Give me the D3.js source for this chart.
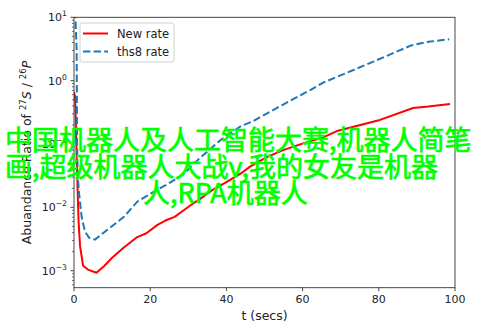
<!DOCTYPE html>
<html><head><meta charset="utf-8">
<script src="https://cdn.jsdelivr.net/npm/d3@7"></script>
<style>
html,body{margin:0;padding:0;background:#fff;}
svg{display:block;}
</style>
</head><body>
<script>
// ---- data ----
const newRateX = [0, 0.3, 0.7, 1.2, 1.6, 2.4, 3.8, 5.9, 8, 10, 13, 16.6, 19, 21.9, 24, 26.4, 28, 30.6, 33, 36.7, 40, 43.7, 46.2, 50.6, 54.9, 61.1, 65.4, 69, 80.3, 89, 93, 98.7];
const newRateY = [0.66, 0.55, 0.06, 0.006, 0.0024, 0.0012, 0.00103, 0.00093, 0.0012, 0.0016, 0.0023, 0.0034, 0.0039, 0.0053, 0.0062, 0.0071, 0.0083, 0.0108, 0.0135, 0.0195, 0.025, 0.034, 0.044, 0.062, 0.08, 0.107, 0.127, 0.16, 0.24, 0.37, 0.39, 0.43];
const ths8X = [0, 0.7, 0.8, 1.0, 1.4, 2.0, 2.9, 4, 5.5, 8.7, 13.1, 16.6, 21, 25.4, 28.9, 33, 38.5, 43.7, 47, 54.9, 62, 65.4, 78.6, 88.5, 93, 98.5];
const ths8Y = [40, 3, 0.1, 0.03, 0.015, 0.0071, 0.0041, 0.0033, 0.0031, 0.0044, 0.0071, 0.0123, 0.0177, 0.025, 0.034, 0.06, 0.116, 0.19, 0.23, 0.42, 0.71, 0.93, 2.0, 3.6, 4.1, 4.5];
const xTicks = [0, 20, 40, 60, 80, 100];
const yTickExps = [1, 0, -1, -2, -3];
const seriesNames = ["New rate", "ths8 rate"];
const overlayLines = ["中国机器人及人工智能大赛,机器人简笔", "画,超级机器人大战v,我的女友是机器", "人,RPA机器人"];

// ---- layout ----
const W = 493, H = 329;
const L = 74, R = 455, T = 17.3, B = 287.7;
const svg = d3.select("body").append("svg").attr("width", W).attr("height", H);

const x = d3.scaleLinear().domain([0, 100]).range([L, R]);
const y = d3.scaleLog().domain([5.4e-4, 10]).range([B, T]);

svg.append("clipPath").attr("id", "clip").append("rect")
  .attr("x", L).attr("y", T).attr("width", R - L).attr("height", B - T);

const line = d3.line().x(d => x(d[0])).y(d => y(d[1]));
const plot = svg.append("g").attr("clip-path", "url(#clip)");
plot.append("path").datum(newRateX.map((v, i) => [v, newRateY[i]]))
  .attr("d", line).attr("fill", "none").attr("stroke", "#ff0000").attr("stroke-width", 2)
  .attr("stroke-linejoin", "round");
plot.append("path").datum(ths8X.map((v, i) => [v, ths8Y[i]]))
  .attr("d", line).attr("fill", "none").attr("stroke", "#1f77b4").attr("stroke-width", 2)
  .attr("stroke-dasharray", "7.4,3.2");

// spines
svg.append("rect").attr("x", L).attr("y", T).attr("width", R - L).attr("height", B - T)
  .attr("fill", "none").attr("stroke", "#333").attr("stroke-width", 0.9);

const tickFont = "DejaVu Sans, sans-serif";
// x ticks
const xg = svg.append("g");
xTicks.forEach(t => {
  xg.append("line").attr("x1", x(t)).attr("x2", x(t)).attr("y1", B).attr("y2", B + 3.5)
    .attr("stroke", "#333").attr("stroke-width", 0.9);
  xg.append("text").attr("x", x(t)).attr("y", B + 15.5).attr("text-anchor", "middle")
    .attr("font-family", tickFont).attr("font-size", 11).attr("fill", "#222").text(t);
});
// y ticks
const yg = svg.append("g");
yTickExps.forEach(e => {
  const v = Math.pow(10, e);
  yg.append("line").attr("x1", L - 3.5).attr("x2", L).attr("y1", y(v)).attr("y2", y(v))
    .attr("stroke", "#333").attr("stroke-width", 0.9);
  const tx = yg.append("text").attr("x", L - 7).attr("y", y(v) + 4).attr("text-anchor", "end")
    .attr("font-family", tickFont).attr("font-size", 11).attr("fill", "#222");
  tx.append("tspan").text("10");
  tx.append("tspan").attr("dy", -5).attr("font-size", 7.7).text(e < 0 ? "\u2212" + (-e) : String(e));
});
// minor ticks
for (let e = -4; e <= 0; e++) {
  for (let m = 2; m <= 9; m++) {
    const v = m * Math.pow(10, e);
    if (v < y.domain()[0] || v > y.domain()[1]) continue;
    yg.append("line").attr("x1", L - 2).attr("x2", L).attr("y1", y(v)).attr("y2", y(v))
      .attr("stroke", "#333").attr("stroke-width", 0.7);
  }
}

// axis labels
svg.append("text").attr("x", (L + R) / 2).attr("y", 319.5).attr("text-anchor", "middle")
  .attr("font-family", tickFont).attr("font-size", 12.5).attr("fill", "#222").text("t (secs)");
const yl = svg.append("text").attr("transform", `translate(31,${(T + B) / 2}) rotate(-90)`)
  .attr("text-anchor", "middle").attr("font-family", tickFont).attr("font-size", 12.5).attr("fill", "#222");
yl.append("tspan").text("Abuandance Ratio of ");
yl.append("tspan").attr("dy", -5).attr("font-size", 8.5).text("27");
yl.append("tspan").attr("dy", 5).attr("font-style", "italic").text("S");
yl.append("tspan").text(" / ");
yl.append("tspan").attr("dy", -5).attr("font-size", 8.5).text("26");
yl.append("tspan").attr("dy", 5).attr("font-style", "italic").text("P");

// legend
const lg = svg.append("g");
lg.append("rect").attr("x", 80).attr("y", 23).attr("width", 94).attr("height", 39).attr("rx", 2.5)
  .attr("fill", "#fff").attr("fill-opacity", 0.8).attr("stroke", "#ccc").attr("stroke-width", 0.9);
const legColors = ["#ff0000", "#1f77b4"];
const legDash = [null, "7.4,3.2"];
seriesNames.forEach((n, i) => {
  const ly = 33.5 + i * 18;
  lg.append("line").attr("x1", 83).attr("x2", 108).attr("y1", ly).attr("y2", ly)
    .attr("stroke", legColors[i]).attr("stroke-width", 2).attr("stroke-dasharray", legDash[i]);
  lg.append("text").attr("x", 117).attr("y", ly + 4).attr("font-family", tickFont)
    .attr("font-size", 11.5).attr("fill", "#222").text(n);
});

// overlay text
const ovX = [5, 5, 143];
const ovY = [150, 176.5, 203];
overlayLines.forEach((s, i) => {
  svg.append("text").attr("x", ovX[i]).attr("y", ovY[i])
    .attr("font-family", "Noto Sans CJK SC, sans-serif").attr("font-size", 27)
    .attr("fill", "#00ff00").attr("stroke", "#00ff00").attr("stroke-width", 0.7)
    .text(s);
});
</script>
</body></html>
